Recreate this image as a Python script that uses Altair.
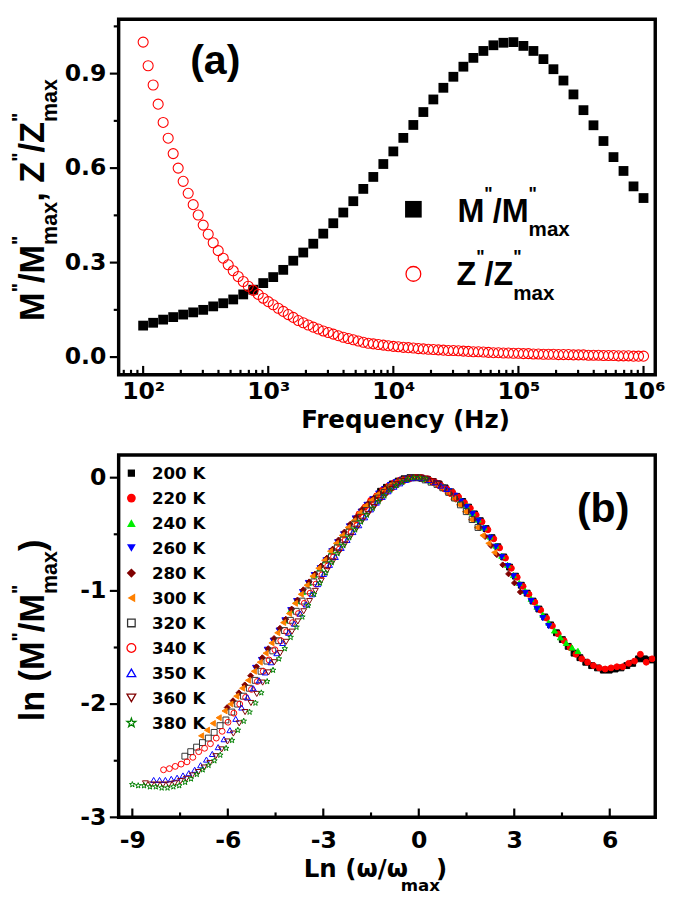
import math
import altair as alt
import pandas as pd

# ---------------- data: panel (a) ----------------
MANTISSA = [1.000, 1.096, 1.202, 1.318, 1.445, 1.585, 1.738, 1.905, 2.089, 2.291,
            2.512, 2.754, 3.020, 3.311, 3.631, 3.981, 4.365, 4.786, 5.248, 5.754,
            6.310, 6.918, 7.586, 8.318, 9.120]
DECADES = [100, 1000, 10000, 100000]
FREQ_Z = [m * d for d in DECADES for m in MANTISSA] + [1000000]
FREQ_M = FREQ_Z[::2]

M_NORM = [0.100, 0.109, 0.119, 0.127, 0.135, 0.142, 0.150, 0.161, 0.171, 0.183,
          0.199, 0.214, 0.235, 0.254, 0.277, 0.306, 0.332, 0.360, 0.392, 0.425,
          0.459, 0.495, 0.534, 0.572, 0.613, 0.653, 0.696, 0.737, 0.778, 0.818,
          0.855, 0.890, 0.922, 0.950, 0.972, 0.990, 0.998, 1.000, 0.988, 0.972,
          0.946, 0.914, 0.878, 0.834, 0.784, 0.736, 0.686, 0.635, 0.591, 0.542,
          0.505]
Z_NORM = [1.000, 0.925, 0.864, 0.803, 0.745, 0.695, 0.646, 0.600, 0.558, 0.520,
          0.484, 0.451, 0.419, 0.390, 0.363, 0.338, 0.314, 0.293, 0.274, 0.256,
          0.240, 0.225, 0.212, 0.199, 0.187, 0.176, 0.166, 0.155, 0.145, 0.135,
          0.126, 0.116, 0.109, 0.102, 0.095, 0.089, 0.083, 0.078, 0.073, 0.068,
          0.063, 0.059, 0.055, 0.051, 0.047, 0.044, 0.042, 0.040, 0.038, 0.036,
          0.034, 0.033, 0.031, 0.030, 0.029, 0.027, 0.026, 0.025, 0.024, 0.023,
          0.022, 0.021, 0.021, 0.020, 0.019, 0.018, 0.017, 0.017, 0.016, 0.015,
          0.014, 0.014, 0.013, 0.013, 0.012, 0.012, 0.011, 0.011, 0.010, 0.010,
          0.009, 0.009, 0.009, 0.008, 0.008, 0.008, 0.007, 0.007, 0.007, 0.006,
          0.006, 0.006, 0.005, 0.005, 0.005, 0.004, 0.004, 0.004, 0.003, 0.003,
          0.003]

X_MAJOR_A = [100, 1000, 10000, 100000, 1000000]
X_MINOR_A = [70, 80, 90] + [k * d for d in DECADES for k in [2, 3, 4, 5, 6, 7, 8, 9]]
Y_MAJOR_A = [0.0, 0.3, 0.6, 0.9]
Y_MINOR_A = [0.15, 0.45, 0.75, 1.05]

# ---------------- data: panel (b) ----------------
TEMPS = ["200 K", "220 K", "240 K", "260 K", "280 K", "300 K",
         "320 K", "340 K", "350 K", "360 K", "380 K"]
F_PEAK = [332, 655, 6736, 16900, 41160, 93440, 155600, 304100, 414600, 537700, 810300]
LN_M = [
    [-0.12, -0.085, -0.055, -0.03, -0.01, 0.0, 0.0, -0.005, -0.015, -0.035,
     -0.06, -0.09, -0.125, -0.165, -0.21, -0.26, -0.32, -0.38, -0.45, -0.53,
     -0.61, -0.70, -0.79, -0.87, -0.95, -1.02, -1.09, -1.16, -1.23, -1.30,
     -1.37, -1.43, -1.49, -1.55, -1.59, -1.63, -1.66, -1.68, -1.70, -1.70,
     -1.69, -1.68, -1.66, -1.64, -1.60, -1.60, -1.61, -1.61, -1.60, -1.60, -1.59],
    [-0.32, -0.26, -0.20, -0.16, -0.11, -0.075, -0.045, -0.02, -0.01, 0.0,
     0.0, -0.005, -0.02, -0.04, -0.07, -0.10, -0.13, -0.17, -0.22, -0.27,
     -0.33, -0.39, -0.46, -0.54, -0.62, -0.71, -0.80, -0.88, -0.96, -1.03,
     -1.10, -1.17, -1.24, -1.31, -1.38, -1.44, -1.50, -1.56, -1.60, -1.63,
     -1.66, -1.68, -1.69, -1.68, -1.67, -1.67, -1.64, -1.62, -1.56, -1.63, -1.60],
    [-1.26, -1.17, -1.09, -1.01, -0.93, -0.86, -0.80, -0.73, -0.65, -0.57,
     -0.50, -0.43, -0.36, -0.30, -0.24, -0.19, -0.14, -0.10, -0.065, -0.04,
     -0.02, -0.005, 0.0, 0.0, -0.01, -0.03, -0.05, -0.08, -0.12, -0.16,
     -0.20, -0.25, -0.31, -0.37, -0.44, -0.52, -0.60, -0.69, -0.77, -0.86,
     -0.93, -1.00, -1.07, -1.14, -1.21, -1.28, -1.35, -1.41, -1.46, -1.50, -1.53],
    [-1.68, -1.61, -1.52, -1.44, -1.35, -1.26, -1.17, -1.09, -1.01, -0.93,
     -0.86, -0.80, -0.73, -0.65, -0.57, -0.50, -0.43, -0.36, -0.30, -0.24,
     -0.19, -0.14, -0.10, -0.065, -0.04, -0.02, -0.005, 0.0, 0.0, -0.01,
     -0.03, -0.05, -0.09, -0.12, -0.16, -0.21, -0.26, -0.32, -0.38, -0.45,
     -0.53, -0.61, -0.70, -0.78, -0.87, -0.95, -1.02, -1.09, -1.16, -1.24, -1.31],
    [-2.03, -1.97, -1.90, -1.83, -1.75, -1.67, -1.59, -1.51, -1.42, -1.33,
     -1.25, -1.16, -1.08, -0.99, -0.92, -0.85, -0.78, -0.71, -0.63, -0.55,
     -0.48, -0.41, -0.35, -0.28, -0.23, -0.18, -0.13, -0.09, -0.06, -0.035,
     -0.015, -0.005, 0.0, 0.0, -0.02, -0.04, -0.07, -0.10, -0.14, -0.19,
     -0.24, -0.30, -0.37, -0.44, -0.52, -0.60, -0.68, -0.77, -0.85, -0.93, -1.01],
    [-2.28, -2.23, -2.17, -2.12, -2.06, -2.00, -1.93, -1.86, -1.79, -1.71,
     -1.63, -1.55, -1.46, -1.37, -1.28, -1.20, -1.11, -1.03, -0.95, -0.87,
     -0.80, -0.73, -0.65, -0.58, -0.51, -0.44, -0.38, -0.31, -0.25, -0.20,
     -0.15, -0.11, -0.07, -0.045, -0.02, -0.01, 0.0, 0.0, -0.01, -0.03,
     -0.06, -0.10, -0.14, -0.19, -0.24, -0.30, -0.37, -0.44, -0.51, -0.58, -0.66],
    [-2.46, -2.42, -2.38, -2.34, -2.30, -2.25, -2.19, -2.14, -2.07, -2.00,
     -1.93, -1.86, -1.79, -1.71, -1.62, -1.53, -1.44, -1.35, -1.26, -1.18,
     -1.09, -1.00, -0.92, -0.85, -0.77, -0.70, -0.62, -0.55, -0.48, -0.41,
     -0.35, -0.29, -0.24, -0.18, -0.13, -0.09, -0.06, -0.03, -0.01, 0.0,
     0.0, -0.02, -0.04, -0.06, -0.09, -0.13, -0.18, -0.24, -0.30, -0.37, -0.44],
    [-2.58, -2.57, -2.55, -2.53, -2.51, -2.47, -2.42, -2.39, -2.35, -2.30,
     -2.24, -2.16, -2.08, -2.00, -1.94, -1.87, -1.80, -1.71, -1.61, -1.52,
     -1.44, -1.36, -1.28, -1.20, -1.11, -1.02, -0.94, -0.86, -0.78, -0.70,
     -0.63, -0.55, -0.48, -0.42, -0.35, -0.29, -0.23, -0.18, -0.13, -0.09,
     -0.05, -0.025, -0.01, 0.0, 0.0, -0.01, -0.04, -0.07, -0.10, -0.14, -0.18],
    [-2.67, -2.67, -2.67, -2.66, -2.65, -2.63, -2.61, -2.58, -2.54, -2.49,
     -2.44, -2.38, -2.31, -2.23, -2.13, -2.03, -1.94, -1.86, -1.79, -1.72,
     -1.63, -1.55, -1.46, -1.37, -1.29, -1.20, -1.12, -1.03, -0.94, -0.85,
     -0.77, -0.70, -0.62, -0.55, -0.48, -0.42, -0.35, -0.28, -0.22, -0.17,
     -0.12, -0.08, -0.05, -0.02, -0.005, 0.0, 0.0, -0.02, -0.04, -0.07, -0.10],
    [-2.70, -2.71, -2.71, -2.71, -2.71, -2.70, -2.68, -2.66, -2.63, -2.60,
     -2.56, -2.52, -2.46, -2.40, -2.33, -2.26, -2.17, -2.07, -1.99, -1.91,
     -1.81, -1.72, -1.63, -1.55, -1.45, -1.36, -1.27, -1.18, -1.09, -1.00,
     -0.91, -0.82, -0.74, -0.66, -0.59, -0.52, -0.45, -0.38, -0.32, -0.26,
     -0.20, -0.15, -0.10, -0.06, -0.03, -0.01, 0.0, 0.0, -0.01, -0.03, -0.05],
    [-2.71, -2.72, -2.72, -2.73, -2.73, -2.74, -2.74, -2.73, -2.72, -2.69,
     -2.66, -2.62, -2.58, -2.54, -2.50, -2.45, -2.39, -2.32, -2.23, -2.15,
     -2.07, -1.99, -1.90, -1.80, -1.70, -1.60, -1.51, -1.41, -1.32, -1.23,
     -1.13, -1.03, -0.93, -0.84, -0.75, -0.67, -0.60, -0.53, -0.46, -0.39,
     -0.33, -0.27, -0.21, -0.16, -0.11, -0.07, -0.04, -0.015, 0.0, 0.0, -0.01],
]
X_MAJOR_B = [-9, -6, -3, 0, 3, 6]
X_MINOR_B = [-7.5, -4.5, -1.5, 1.5, 4.5]
Y_MAJOR_B = [0, -1, -2, -3]
Y_MINOR_B = [-0.5, -1.5, -2.5]

# ---------------- styles ----------------
FT = "Liberation Sans"
FD = "DejaVu Sans"
STAR = ("M0,-1L0.235,-0.324L0.951,-0.309L0.38,0.124L0.588,0.809L0,0.4"
        "L-0.588,0.809L-0.38,0.124L-0.951,-0.309L-0.235,-0.324Z")
SHAPES = ["square", "circle", "triangle-up", "triangle-down", "diamond", "triangle-left",
          "square", "circle", "triangle-up", "triangle-down", STAR]
FILLS = ["#000000", "#ff0000", "#00ee00", "#0000ff", "#800000", "#ff8000",
         "transparent", "transparent", "transparent", "transparent", "transparent"]
STROKES = ["#000000", "#ff0000", "#00ee00", "#0000ff", "#800000", "#ff8000",
           "#333333", "#ff0000", "#0000ff", "#800000", "#008000"]
LEG_SIZES = [55, 80, 80, 80, 90, 80, 60, 80, 80, 80, 90]

W, HA, HB = 548, 363, 370
AW = {"M": .833, "Z": .611, "/": .278, ",": .278, " ": .278, "m": .889, "a": .556,
      "x": .556, "l": .278, "n": .611, "(": .333, ")": .333, '"': .474}

ANN = pd.DataFrame({"k": [0]})


def note(s, x, y, size, font, angle=0, align="left"):
    return alt.Chart(ANN).mark_text(
        text=s, font=font, fontSize=size, fontWeight="bold", angle=angle,
        align=align, baseline="alphabetic", color="black"
    ).encode(x=alt.value(x), y=alt.value(y))


def wid(s, size):
    return sum(AW[c] for c in s) * size


def vtitle(pieces, xb, y0):
    out, y = [], y0
    for s, size, shift, adv in pieces:
        out.append(note(s, xb + shift, y, size, FT, angle=270))
        y -= wid(s, size) if adv is None else adv
    return out


def htitle(pieces, x0, yb):
    out, x = [], x0
    for s, size, shift, adv in pieces:
        out.append(note(s, x, yb + shift, size, FT))
        x += wid(s, size) if adv is None else adv
    return out


def lab_axis(values, pad, expr=None, fmt=None):
    kw = dict(values=values, title=None, ticks=False, tickSize=0, domain=False, grid=False,
              labelFont=FD, labelFontSize=24, labelFontWeight="bold", labelPadding=pad,
              labelFlush=False, labelOverlap=False, labelColor="black")
    if expr:
        kw["labelExpr"] = expr
    if fmt:
        kw["format"] = fmt
    return alt.Axis(**kw)


EXP = "round(log(datum.value) / LN10)"
LBL_A = (f"'10' + ({EXP} == 2 ? '\u00b2' : {EXP} == 3 ? '\u00b3' : "
         f"{EXP} == 4 ? '\u2074' : {EXP} == 5 ? '\u2075' : '\u2076')")
LBL_B = "datum.value < 0 ? '-' + format(-datum.value, 'd') : format(datum.value, 'd')"

AX_XA = lab_axis(X_MAJOR_A, 5, expr=LBL_A)
AX_YA = lab_axis(Y_MAJOR_A, 13, fmt=".1f")
AX_XB = lab_axis(X_MAJOR_B, 12, expr=LBL_B)
AX_YB = lab_axis(Y_MAJOR_B, 13, expr=LBL_B)


def xa():
    return alt.X("f:Q", scale=alt.Scale(type="log", domain=[63.7, 1.241e6], nice=False), axis=AX_XA)


def ya():
    return alt.Y("v:Q", scale=alt.Scale(domain=[-0.056, 1.0725], nice=False, zero=False), axis=AX_YA)


def xb():
    return alt.X("x:Q", scale=alt.Scale(domain=[-9.43, 7.43], nice=False, zero=False), axis=AX_XB)


def yb():
    return alt.Y("y:Q", scale=alt.Scale(domain=[-3.0, 0.2], nice=False, zero=False), axis=AX_YB)


def xticks(vals, xenc, field, h, length):
    return alt.Chart(pd.DataFrame({field: vals})).mark_rule(color="black", strokeWidth=2.2).encode(
        x=xenc(), y=alt.value(h), y2=alt.value(h - length))


def yticks(vals, yenc, field, length):
    return alt.Chart(pd.DataFrame({field: vals})).mark_rule(color="black", strokeWidth=2.2).encode(
        y=yenc(), x=alt.value(-length), x2=alt.value(0))


SUP, SUB = -19, 13

# ---------------- panel (a) ----------------
df_m = pd.DataFrame({"f": FREQ_M, "v": M_NORM})
df_z = pd.DataFrame({"f": FREQ_Z, "v": Z_NORM})

pts_m = alt.Chart(df_m).mark_point(shape="square", filled=True, size=100, color="black",
                                   opacity=1).encode(x=xa(), y=ya())
pts_z = alt.Chart(df_z).mark_point(shape="circle", filled=False, size=105, color="#ff0000",
                                   strokeWidth=1.1, opacity=1).encode(x=xa(), y=ya())

leg_a = [
    alt.Chart(ANN).mark_point(shape="square", filled=True, size=289, color="black", opacity=1)
    .encode(x=alt.value(301), y=alt.value(194)),
    alt.Chart(ANN).mark_point(shape="circle", filled=False, size=227, color="#ff0000",
                              strokeWidth=1.3, opacity=1)
    .encode(x=alt.value(301), y=alt.value(260)),
]
leg_a += htitle([("M", 33, 0, None), ('"', 18, -22, None), ("/", 33, 0, None), ("M", 33, 0, None),
                 ('"', 18, -22, 0), ("max", 21, 15, None)], 346, 206.7)
leg_a += htitle([("Z", 33, 0, None), ('"', 18, -23, None), ("/", 33, 0, None), ("Z", 33, 0, None),
                 ('"', 18, -23, 0), ("max", 21, 15, None)], 345, 271.7)

ytitle_a = vtitle([("M", 35, 0, None), ('"', 20, SUP, None), ("/", 35, 0, None), ("M", 35, 0, None),
                   ('"', 20, SUP, 0), ("max", 22, SUB, None), (", ", 35, 0, None),
                   ("Z", 35, 0, None), ('"', 20, SUP, None), ("/", 35, 0, None), ("Z", 35, 0, None),
                   ('"', 20, SUP, 0), ("max", 22, SUB, None)], -76, 308)

panel_a = alt.layer(
    xticks(X_MINOR_A, xa, "f", HA, 5),
    xticks(X_MAJOR_A, xa, "f", HA, 9),
    yticks(Y_MINOR_A, ya, "v", 5),
    yticks(Y_MAJOR_A, ya, "v", 9),
    pts_m, pts_z,
    *leg_a,
    note("(a)", 73, 56, 42, FT),
    note("Frequency (Hz)", 293, 417, 25, FD, align="center"),
    *ytitle_a,
).properties(width=W, height=HA)

# ---------------- panel (b) ----------------
rows = []
for t, fp, vals in zip(TEMPS, F_PEAK, LN_M):
    for f, v in zip(FREQ_M, vals):
        rows.append({"T": t, "x": math.log(f / fp), "y": v})
df_b = pd.DataFrame(rows)

pts_b = alt.Chart(df_b).mark_point(size=36, strokeWidth=1, opacity=1, clip=True).encode(
    x=xb(), y=yb(),
    shape=alt.Shape("T:N", scale=alt.Scale(domain=TEMPS, range=SHAPES), legend=None),
    fill=alt.Fill("T:N", scale=alt.Scale(domain=TEMPS, range=FILLS), legend=None),
    stroke=alt.Stroke("T:N", scale=alt.Scale(domain=TEMPS, range=STROKES), legend=None),
)

# hand-built legend (symbol + label per temperature)
leg_b = []
for k, t in enumerate(TEMPS):
    yk = 18.5 + 25.5 * k
    is_open = FILLS[k] == "transparent"
    leg_b.append(
        alt.Chart(ANN).mark_point(shape=SHAPES[k], filled=not is_open, color=STROKES[k],
                                  size=LEG_SIZES[k], strokeWidth=1.3, opacity=1)
        .encode(x=alt.value(13), y=alt.value(yk))
    )
    leg_b.append(note(t, 34, yk + 6, 17, FD))

ytitle_b = vtitle([("ln (", 35, 0, None), ("M", 35, 0, None), ('"', 20, SUP, None),
                   ("/", 35, 0, None), ("M", 35, 0, None), ('"', 20, SUP, 0),
                   ("max", 22, SUB, None), (")", 35, 0, None)], -76, 272)

xtitle_b = [
    note("Ln (\u03c9/\u03c9", 189, 431, 25, FD),
    note("max", 288, 445, 17, FD),
    note(")", 324, 431, 25, FD),
]

panel_b = alt.layer(
    xticks(X_MINOR_B, xb, "x", HB, 5),
    xticks(X_MAJOR_B, xb, "x", HB, 9),
    yticks(Y_MINOR_B, yb, "y", 5),
    yticks(Y_MAJOR_B, yb, "y", 9),
    pts_b,
    *leg_b,
    note("(b)", 468, 68, 42, FT),
    *xtitle_b,
    *ytitle_b,
).properties(width=W, height=HB)

chart = alt.vconcat(panel_a, panel_b, spacing=19).properties(padding=0).configure_view(
    stroke="black", strokeWidth=3.5
)

chart.save("out.html", embed_options={"renderer": "svg", "actions": False})
